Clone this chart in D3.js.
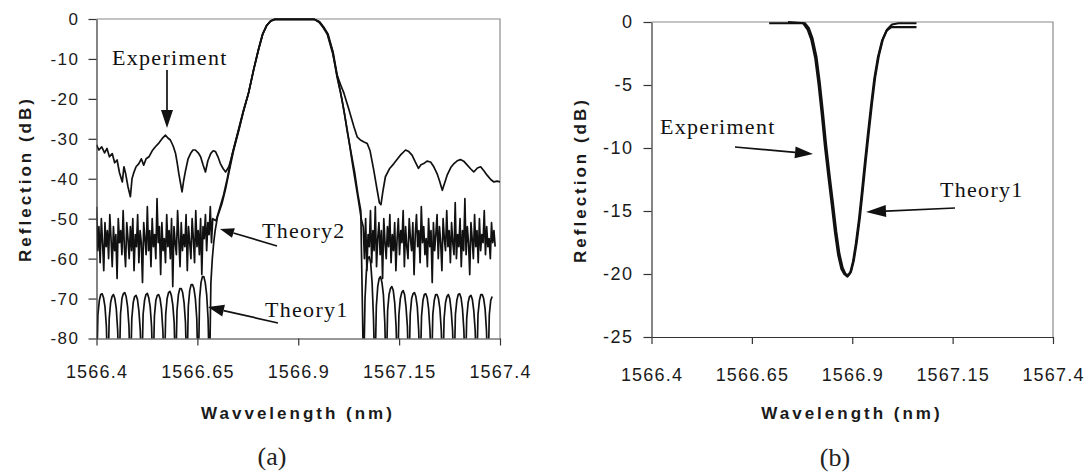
<!DOCTYPE html>
<html><head><meta charset="utf-8">
<script src="https://cdn.jsdelivr.net/npm/d3@7/dist/d3.min.js"></script>
<style>
html,body{margin:0;padding:0;background:#fff;}
svg{display:block;}
</style></head>
<body>
<svg id="chart" width="1089" height="473"></svg>
<script>
// ---------------- DATA ----------------
const xTicks = [1566.4, 1566.65, 1566.9, 1567.15, 1567.4];
const xTickLabels = ["1566.4", "1566.65", "1566.9", "1567.15", "1567.4"];
const yTicksA = [0, -10, -20, -30, -40, -50, -60, -70, -80];
const yTicksB = [0, -5, -10, -15, -20, -25];

// Panel (a) Experiment [wavelength nm, reflection dB]
const expA = [[1566.400,-31.5],[1566.406,-32.8],[1566.413,-32.0],[1566.420,-33.5],[1566.426,-32.4],[1566.432,-34.5],[1566.439,-33.7],[1566.445,-36.0],[1566.451,-35.3],[1566.457,-38.5],[1566.464,-40.8],[1566.468,-37.0],[1566.472,-38.6],[1566.478,-42.0],[1566.484,-44.5],[1566.488,-40.0],[1566.492,-38.6],[1566.498,-37.0],[1566.505,-36.2],[1566.511,-35.0],[1566.517,-36.6],[1566.523,-35.0],[1566.530,-34.5],[1566.538,-33.0],[1566.546,-32.0],[1566.555,-31.0],[1566.563,-29.9],[1566.571,-29.1],[1566.577,-29.8],[1566.583,-30.3],[1566.590,-31.8],[1566.596,-33.7],[1566.600,-36.0],[1566.604,-38.7],[1566.608,-41.0],[1566.612,-43.3],[1566.616,-40.5],[1566.621,-37.8],[1566.627,-35.0],[1566.633,-33.7],[1566.639,-32.8],[1566.645,-32.8],[1566.652,-33.5],[1566.658,-34.5],[1566.664,-36.5],[1566.670,-38.3],[1566.676,-35.5],[1566.683,-33.7],[1566.689,-33.0],[1566.695,-33.2],[1566.701,-34.5],[1566.707,-36.2],[1566.714,-37.5],[1566.720,-38.3],[1566.728,-37.0],[1566.735,-34.5],[1566.740,-32.5],[1566.753,-27.5],[1566.765,-22.8],[1566.777,-18.5],[1566.790,-12.5],[1566.802,-7.5],[1566.812,-3.8],[1566.822,-1.6],[1566.832,-0.5],[1566.842,-0.1],[1566.940,-0.1],[1566.952,-0.9],[1566.962,-2.2],[1566.972,-3.8],[1566.985,-8.5],[1566.996,-14.0],[1567.005,-16.5],[1567.013,-18.5],[1567.025,-22.5],[1567.038,-27.0],[1567.046,-29.5],[1567.054,-30.3],[1567.063,-30.8],[1567.071,-31.2],[1567.078,-33.0],[1567.087,-37.8],[1567.095,-42.5],[1567.101,-46.0],[1567.105,-46.5],[1567.110,-43.0],[1567.116,-39.5],[1567.126,-37.5],[1567.137,-36.2],[1567.153,-34.1],[1567.166,-32.8],[1567.174,-33.2],[1567.182,-34.1],[1567.190,-35.8],[1567.198,-37.4],[1567.204,-36.5],[1567.211,-36.2],[1567.219,-35.6],[1567.228,-35.8],[1567.236,-37.0],[1567.244,-38.7],[1567.250,-40.5],[1567.257,-42.9],[1567.263,-41.0],[1567.269,-39.1],[1567.278,-37.2],[1567.286,-36.2],[1567.294,-35.5],[1567.302,-35.2],[1567.310,-35.6],[1567.319,-36.6],[1567.327,-37.5],[1567.335,-38.3],[1567.344,-37.3],[1567.352,-37.0],[1567.360,-38.0],[1567.368,-39.1],[1567.377,-40.2],[1567.385,-40.8],[1567.393,-40.6],[1567.400,-40.8]];

// Panel (a) theory main lobes
const lobeT1 = [[1566.700,-49.5],[1566.711,-46.2],[1566.720,-42.5],[1566.728,-38.5],[1566.740,-32.8],[1566.753,-27.8],[1566.765,-22.8],[1566.777,-18.5],[1566.790,-12.5],[1566.802,-7.5],[1566.812,-3.8],[1566.822,-1.6],[1566.832,-0.5],[1566.842,-0.1],[1566.940,-0.1],[1566.952,-0.7],[1566.962,-2.0],[1566.972,-3.6],[1566.985,-8.0],[1566.996,-14.5],[1567.005,-18.5],[1567.013,-22.8],[1567.022,-28.5],[1567.032,-34.0],[1567.040,-38.5],[1567.048,-44.0],[1567.055,-48.0]];
const lobeT2 = [[1566.696,-50.5],[1566.705,-47.5],[1566.715,-44.0],[1566.724,-40.0],[1566.736,-34.0],[1566.750,-28.5],[1566.763,-23.3],[1566.776,-18.8],[1566.789,-12.8],[1566.801,-7.7],[1566.811,-3.9],[1566.821,-1.7],[1566.831,-0.5],[1566.841,-0.1],[1566.941,-0.1],[1566.953,-0.7],[1566.963,-2.0],[1566.974,-3.8],[1566.987,-8.6],[1566.999,-15.5],[1567.008,-20.0],[1567.016,-24.5],[1567.025,-30.0],[1567.034,-36.0],[1567.042,-41.0],[1567.050,-46.0],[1567.056,-50.0]];

// Theory 2 noisy side bands, sampled every 0.003 nm
const t2Step = 0.003;
const t2LeftStart = 1566.400;
const t2Left = [-47,-58,-52,-61,-50,-56,-63,-51,-57,-53,
 -60,-49,-55,-62,-52,-58,-54,-65,-50,-56,
 -53,-59,-48,-57,-62,-51,-55,-60,-52,-58,
 -50,-63,-54,-57,-49,-61,-53,-56,-66,-51,
 -55,-59,-47,-58,-53,-62,-50,-57,-54,-60,
 -45,-56,-52,-64,-51,-58,-55,-61,-49,-57,
 -53,-60,-50,-67,-52,-56,-59,-48,-55,-62,
 -51,-58,-54,-57,-49,-63,-52,-56,-60,-50,
 -55,-61,-48,-57,-53,-59,-50,-64,-52,-55,
 -49,-58,-51,-54,-47,-56,-50];
const t2RightStart = 1567.061;
const t2Right = [-52,-60,-50,-63,-54,-57,-48,-61,-53,-58,
 -47,-62,-55,-51,-59,-53,-65,-50,-56,-60,
 -52,-57,-49,-61,-54,-58,-51,-63,-55,-50,
 -59,-53,-56,-48,-62,-52,-57,-60,-50,-55,
 -58,-51,-64,-54,-49,-57,-53,-61,-47,-56,
 -52,-59,-55,-62,-50,-57,-53,-66,-51,-58,
 -54,-49,-60,-52,-56,-63,-50,-55,-58,-48,
 -57,-53,-61,-51,-56,-59,-46,-60,-54,-57,
 -50,-62,-53,-58,-45,-59,-52,-56,-64,-51,
 -55,-60,-49,-57,-53,-61,-50,-58,-54,-56,
 -48,-59,-52,-57,-55,-60,-51,-56,-53,-57];

// Theory 1 side lobes, sampled every 0.0035 nm
const t1Step = 0.0035;
const t1LeftStart = 1566.400;
const t1Left = [-90,-74,-70.5,-69,-68.8,-69.8,-72,-77,
 -90,-75,-71,-69.5,-69,-70,-72.5,-78,
 -90,-74,-70,-68.8,-68.5,-69.5,-72,-77,
 -90,-75,-71,-69.5,-69.2,-70.2,-73,-78,
 -90,-74,-70.5,-69,-68.7,-69.8,-72,-77,
 -90,-74.5,-70.5,-69.2,-69,-70,-72.5,-78,
 -90,-74,-70,-68.5,-68.2,-69.2,-71.5,-76,
 -90,-73,-69,-67.5,-67.5,-68.5,-71,-76,
 -90,-72,-68,-66.5,-66.5,-67.5,-70,-75,
 -90,-70,-66,-64.5,-64.5,-66,-69,-75,
 -90,-66,-60,-56,-53];
const t1RightStart = 1567.062;
const t1Right = [-90,-70,-63,-60,-59.5,-61,-66,-75,
 -90,-72,-67,-65,-64.5,-66,-69,-76,
 -90,-73,-69,-67.5,-67,-68,-71,-77,
 -90,-74,-70,-68.5,-68,-69,-72,-77,
 -90,-74,-70,-68.8,-68.5,-69.5,-72,-78,
 -90,-74.5,-70.5,-69,-68.8,-69.8,-72.5,-78,
 -90,-74,-70.5,-69,-69,-70,-72.5,-78,
 -90,-75,-71,-69.5,-69,-70,-73,-78,
 -90,-74,-70.5,-69,-68.8,-69.8,-72.5,-78,
 -90,-75,-71,-69.5,-69.2,-70.2,-73,-78,
 -90,-74,-70.5,-69,-69,-70,-72.5,-78,
 -90,-74,-70.5,-69.5];

// Panel (b)
const expB = [[1566.693,-0.1],[1566.778,-0.1],[1566.789,-0.6],[1566.798,-1.4],[1566.808,-2.9],[1566.816,-4.9],[1566.824,-7.3],[1566.832,-9.9],[1566.841,-12.4],[1566.849,-14.5],[1566.857,-16.7],[1566.865,-18.5],[1566.873,-19.6],[1566.880,-20.0],[1566.888,-20.2],[1566.895,-19.9],[1566.902,-19.0],[1566.909,-17.6],[1566.917,-15.6],[1566.924,-13.5],[1566.931,-11.3],[1566.939,-8.9],[1566.947,-6.6],[1566.955,-4.5],[1566.964,-2.8],[1566.974,-1.5],[1566.985,-0.7],[1566.997,-0.4],[1567.060,-0.4]];
const theoryB = [[1566.740,0.0],[1566.782,-0.1],[1566.792,-0.5],[1566.801,-1.3],[1566.811,-2.8],[1566.819,-4.8],[1566.827,-7.2],[1566.835,-9.8],[1566.844,-12.3],[1566.852,-14.4],[1566.860,-16.6],[1566.868,-18.4],[1566.876,-19.5],[1566.883,-20.0],[1566.890,-20.1],[1566.897,-19.8],[1566.904,-18.9],[1566.911,-17.5],[1566.919,-15.5],[1566.926,-13.4],[1566.933,-11.2],[1566.941,-8.8],[1566.949,-6.5],[1566.957,-4.4],[1566.966,-2.7],[1566.976,-1.4],[1566.987,-0.6],[1566.999,-0.2],[1567.015,-0.1],[1567.060,-0.1]];

// ---------------- DRAW ----------------
const svg = d3.select("#chart");
const grid = (start, step, vals) => vals.map((v, i) => [start + i * step, v]);

const theory1A = grid(t1LeftStart, t1Step, t1Left).concat(lobeT1, grid(t1RightStart, t1Step, t1Right));
const theory2A = grid(t2LeftStart, t2Step, t2Left).concat(lobeT2, grid(t2RightStart, t2Step, t2Right));

const sans = "'Liberation Sans', Arial, Helvetica, sans-serif";
const serif = "'Liberation Serif', 'Times New Roman', serif";

function panel(cfg) {
  const g = svg.append("g");
  const x = d3.scaleLinear().domain([1566.4, 1567.4]).range([cfg.x0, cfg.x1]);
  const y = d3.scaleLinear().domain(cfg.yDomain).range([cfg.y1, cfg.y0]);
  const clipId = "clip" + cfg.id;
  svg.append("defs").append("clipPath").attr("id", clipId)
    .append("rect").attr("x", cfg.x0).attr("y", cfg.y0 - 2)
    .attr("width", cfg.x1 - cfg.x0).attr("height", cfg.y1 - cfg.y0 + 2);

  // frame (top & right)
  g.append("path").attr("d", `M${cfg.x0},${cfg.y0}H${cfg.x1}V${cfg.y1}`)
    .attr("fill", "none").attr("stroke", "#8a8a8a").attr("stroke-width", 1.2);

  const line = d3.line().x(d => x(d[0])).y(d => y(d[1]));
  const plot = g.append("g").attr("clip-path", `url(#${clipId})`);
  cfg.series.forEach(s => {
    plot.append("path").attr("d", line(s.data)).attr("fill", "none")
      .attr("stroke", s.color || "#111").attr("stroke-width", s.width)
      .attr("stroke-linejoin", "round");
  });

  // y axis
  const ya = g.append("g").attr("transform", `translate(${cfg.x0},0)`)
    .call(d3.axisLeft(y).tickValues(cfg.yTicks).tickSize(8).tickSizeOuter(0)
      .tickPadding(cfg.yPad).tickFormat(d => String(d)));
  ya.selectAll("path,line").attr("stroke", "#333").attr("stroke-width", 1.2);
  ya.selectAll("text").attr("font-family", sans).attr("font-size", cfg.yFont)
    .attr("letter-spacing", "1.5px").attr("fill", "#1a1a1a");

  // x axis
  const xa = g.append("g").attr("transform", `translate(0,${cfg.y1})`)
    .call(d3.axisBottom(x).tickValues(xTicks).tickSize(7).tickSizeOuter(0)
      .tickPadding(cfg.xPad).tickFormat((d, i) => xTickLabels[i]));
  xa.selectAll("path,line").attr("stroke", "#333").attr("stroke-width", 1.2);
  xa.selectAll("text").attr("font-family", sans).attr("font-size", 18)
    .attr("letter-spacing", "1.2px").attr("fill", "#1a1a1a");

  // titles
  g.append("text").attr("x", cfg.xTitleX).attr("y", cfg.xTitleY)
    .attr("text-anchor", "middle").attr("font-family", sans).attr("font-weight", "bold")
    .attr("font-size", 17).attr("letter-spacing", "3px").attr("fill", "#1a1a1a").text(cfg.xTitle);
  g.append("text").attr("transform", `translate(${cfg.yTitleX},${cfg.yTitleY}) rotate(-90)`)
    .attr("text-anchor", "middle").attr("dominant-baseline", "central")
    .attr("font-family", sans).attr("font-weight", "bold")
    .attr("font-size", 17).attr("letter-spacing", "3px").attr("fill", "#1a1a1a").text("Reflection (dB)");
  g.append("text").attr("x", cfg.capX).attr("y", cfg.capY).attr("text-anchor", "middle")
    .attr("font-family", serif).attr("font-size", 26).attr("fill", "#222").text(cfg.caption);
  return g;
}

function arrow(g, x1, y1, x2, y2, len, hw) {
  const dx = x2 - x1, dy = y2 - y1, L = Math.hypot(dx, dy);
  const ux = dx / L, uy = dy / L;
  const bx = x2 - ux * len, by = y2 - uy * len;
  g.append("line").attr("x1", x1).attr("y1", y1).attr("x2", bx).attr("y2", by)
    .attr("stroke", "#111").attr("stroke-width", 1.7);
  g.append("path").attr("d", `M${x2},${y2}L${bx - uy * hw},${by + ux * hw}L${bx + uy * hw},${by - ux * hw}Z`)
    .attr("fill", "#111");
}
function label(g, x, y, t) {
  g.append("text").attr("x", x).attr("y", y).attr("font-family", serif)
    .attr("font-size", 22).attr("letter-spacing", "1.3px").attr("fill", "#111").text(t);
}

const gA = panel({
  id: "A", x0: 96.5, x1: 500, y0: 19, y1: 338.5, yDomain: [-80, 0], yTicks: yTicksA,
  yPad: 9, yFont: 17, xPad: 20, xTitle: "Wavvelength (nm)", xTitleX: 298, xTitleY: 419,
  yTitleX: 25, yTitleY: 179, caption: "(a)", capX: 272, capY: 465,
  series: [
    { data: theory1A, width: 1.7 },
    { data: theory2A, width: 1.7 },
    { data: expA, width: 1.7 }
  ]
});
label(gA, 112, 65, "Experiment");
arrow(gA, 167, 70, 167, 128, 18, 6);
label(gA, 262, 238, "Theory2");
arrow(gA, 277, 246, 220, 229, 14, 5);
label(gA, 265, 317, "Theory1");
arrow(gA, 278, 323, 208, 307, 16, 6);

const gB = panel({
  id: "B", x0: 651.5, x1: 1053, y0: 22, y1: 337, yDomain: [-25, 0], yTicks: yTicksB,
  yPad: 10, yFont: 18, xPad: 24, xTitle: "Wavelength (nm)", xTitleX: 852, xTitleY: 419,
  yTitleX: 580, yTitleY: 180, caption: "(b)", capX: 835, capY: 466,
  series: [
    { data: expB, width: 2.2 },
    { data: theoryB, width: 2.2 }
  ]
});
label(gB, 660, 134, "Experiment");
arrow(gB, 735, 147, 813, 154, 18, 6);
label(gB, 940, 197, "Theory1");
arrow(gB, 955, 208, 866, 212, 20, 6);
</script>
</body></html>
